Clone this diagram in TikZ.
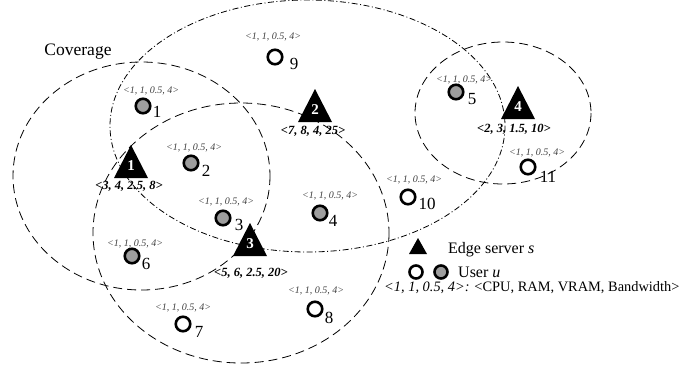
\documentclass[tikz,border=0pt]{standalone}
\usepackage{fontspec}
\setmainfont{Liberation Serif}
\begin{document}
\begin{tikzpicture}[x=1pt,y=-1pt,
  cov/.style={line width=0.8pt,dash pattern=on 9pt off 5pt},
  covdd/.style={line width=0.8pt,dash pattern=on 6pt off 2.5pt on 1pt off 2.5pt},
  user/.style={circle,draw,line width=2.6pt,minimum size=14.5pt,inner sep=0pt,fill=white},
  guser/.style={user,fill=black!38},
  unum/.style={font=\fontsize{17}{17}\selectfont,inner sep=0pt},
  attr/.style={font=\fontsize{10}{10}\selectfont\itshape,text=black!75,inner sep=0pt},
  sattr/.style={font=\fontsize{12.5}{13}\selectfont\bfseries\itshape,inner sep=0pt},
  srvnum/.style={font=\fontsize{15}{15}\selectfont\bfseries,text=white,inner sep=0pt},
  legend/.style={font=\fontsize{16}{16}\selectfont,inner sep=0pt,anchor=west}]
\useasboundingbox (0,0) rectangle (688,376);
\newcommand\srv[4]{%
  \fill (#2,#3) -- ++(17,33) -- ++(-34,0) -- cycle;
  \node[srvnum] (#1) at (#2,#3+21) {#4};}
% coverage areas
\draw[cov] (141.5,176) ellipse [x radius=128.5, y radius=114];
\draw[covdd] (307.5,126) ellipse [x radius=197.5, y radius=126];
\draw[cov] (241,233) ellipse [x radius=148, y radius=130];
\draw[cov] (503,113) ellipse [x radius=88, y radius=71];
\node[font=\fontsize{17.5}{18}\selectfont,inner sep=0pt] (cov) at (78,52) {Coverage};
% users
\node[guser] (u1) at (143,106) {};
\node[guser] (u2) at (191,163) {};
\node[guser] (u3) at (223,218) {};
\node[guser] (u4) at (320,213) {};
\node[guser] (u5) at (456,92) {};
\node[guser] (u6) at (132,256) {};
\node[user] (u7) at (183,324) {};
\node[user] (u8) at (315,309) {};
\node[user] (u9) at (275,57) {};
\node[user] (u10) at (408,197) {};
\node[user] (u11) at (528,167) {};
\node[unum] (n1) at (157,112) {1};
\node[unum] (n2) at (206,171) {2};
\node[unum] (n3) at (239,225) {3};
\node[unum] (n4) at (333,221) {4};
\node[unum] (n5) at (472,99) {5};
\node[unum] (n6) at (146,264) {6};
\node[unum] (n7) at (199,332) {7};
\node[unum] (n8) at (329,318) {8};
\node[unum] (n9) at (294,64) {9};
\node[unum] (n10) at (427,204) {10};
\node[unum] (n11) at (548,177) {11};
\node[attr] (a1) at (151,91) {<1, 1, 0.5, 4>};
\node[attr] (a2) at (194,148) {<1, 1, 0.5, 4>};
\node[attr] (a3) at (226,202) {<1, 1, 0.5, 4>};
\node[attr] (a4) at (330,196) {<1, 1, 0.5, 4>};
\node[attr] (a5) at (464,80) {<1, 1, 0.5, 4>};
\node[attr] (a6) at (135,244) {<1, 1, 0.5, 4>};
\node[attr] (a7) at (183,308) {<1, 1, 0.5, 4>};
\node[attr] (a8) at (316,291) {<1, 1, 0.5, 4>};
\node[attr] (a9) at (273,37) {<1, 1, 0.5, 4>};
\node[attr] (a10) at (414,180) {<1, 1, 0.5, 4>};
\node[attr] (a11) at (537,153) {<1, 1, 0.5, 4>};
% edge servers
\srv{s1}{131}{145}{1}
\srv{s2}{315}{89}{2}
\srv{s3}{250}{223}{3}
\srv{s4}{518}{86}{4}
\node[sattr] (l1) at (129,186) {<3, 4, 2.5, 8>};
\node[sattr] (l2) at (313,131) {<7, 8, 4, 25>};
\node[sattr] (l3) at (251,273) {<5, 6, 2.5, 20>};
\node[sattr] (l4) at (514,129) {<2, 3, 1.5, 10>};
% legend
\fill (418,238) -- (427,254) -- (409,254) -- cycle;
\node[legend] (ls) at (448,250) {Edge server \textit{s}};
\node[user,minimum size=13pt] (lu1) at (416,272) {};
\node[guser,minimum size=13pt] (lu2) at (441,272) {};
\node[legend] (lu) at (458,272) {User \textit{u}};
\node[legend,font=\fontsize{14.4}{15}\selectfont] (lt) at (384,288) {\textit{<1, 1, 0.5, 4>:} <CPU, RAM, VRAM, Bandwidth>};
\end{tikzpicture}
\end{document}
